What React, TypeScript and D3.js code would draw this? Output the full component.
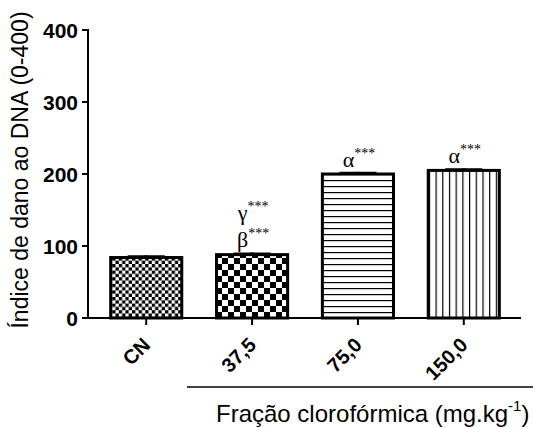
import React from "react";
import * as d3 from "d3";

const categories = ["CN", "37,5", "75,0", "150,0"];
const means = [84, 88, 200, 205];
const errors = [3, 3, 3, 3];
const annotations = [[], ["γ", "β"], ["α"], ["α"]];
const yTicks = [0, 100, 200, 300, 400];
const patterns = ["checkFine", "checkCoarse", "hLines", "vLines"];

const W = 533;
const H = 428;

export default function App() {
  const y = d3.scaleLinear().domain([0, 400]).range([318, 30]);
  const x = d3.scaleBand().domain(categories).range([88, 522]).paddingInner(0.3).paddingOuter(0.2);
  const bw = x.bandwidth();
  const font = "Arial, 'Liberation Sans', sans-serif";
  return (
    <svg width={W} height={H} style={{ position: "absolute", left: 0, top: 0, background: "#fff" }}>
      <defs>
        <pattern id="checkFine" width={6.6} height={6.6} patternUnits="userSpaceOnUse">
          <rect width={6.6} height={6.6} fill="#fff" />
          <rect width={3.3} height={3.3} fill="#000" />
          <rect x={3.3} y={3.3} width={3.3} height={3.3} fill="#000" />
        </pattern>
        <pattern id="checkCoarse" width={12} height={12} patternUnits="userSpaceOnUse">
          <rect width={12} height={12} fill="#fff" />
          <rect width={6} height={6} fill="#000" />
          <rect x={6} y={6} width={6} height={6} fill="#000" />
        </pattern>
        <pattern id="hLines" width={10} height={6} patternUnits="userSpaceOnUse">
          <rect width={10} height={6} fill="#fff" />
          <rect y={0} width={10} height={1.2} fill="#000" />
        </pattern>
        <pattern id="vLines" width={6.7} height={10} patternUnits="userSpaceOnUse">
          <rect width={6.7} height={10} fill="#fff" />
          <rect x={0} width={1.2} height={10} fill="#000" />
        </pattern>
      </defs>
      {/* y axis */}
      <line x1={88} x2={88} y1={y(400) - 1} y2={y(0) + 1} stroke="#000" strokeWidth={2} />
      {yTicks.map((t) => (
        <g key={t}>
          <line x1={82} x2={88} y1={y(t)} y2={y(t)} stroke="#000" strokeWidth={2} />
          <text x={78} y={y(t)} dy="0.36em" textAnchor="end" fontFamily={font} fontWeight="bold" fontSize={21}>
            {t}
          </text>
        </g>
      ))}
      {/* x axis */}
      <line x1={87} x2={521} y1={318} y2={318} stroke="#000" strokeWidth={2} />
      {categories.map((c, i) => {
        const cx = x(c)! + bw / 2;
        const top = y(means[i]);
        return (
          <g key={c}>
            <rect x={x(c)! + 1.5} y={top} width={bw - 3} height={318 - top} fill={`url(#${patterns[i]})`} stroke="#000" strokeWidth={3} />
            <line x1={cx} x2={cx} y1={top} y2={y(means[i] + errors[i])} stroke="#000" strokeWidth={3} />
            <line x1={cx - bw / 4} x2={cx + bw / 4} y1={y(means[i] + errors[i]) + 1.5} y2={y(means[i] + errors[i]) + 1.5} stroke="#000" strokeWidth={3} />
            <line x1={cx} x2={cx} y1={318} y2={325} stroke="#000" strokeWidth={2} />
            <text
              transform={`translate(${cx - 5},${336}) rotate(-45)`}
              textAnchor="end"
              dy="0.72em"
              fontFamily={font}
              fontWeight="bold"
              fontSize={20}
            >
              {c}
            </text>
            {annotations[i].map((a, k) => {
              const n = annotations[i].length;
              const by = y(means[i] + errors[i]) - 5 - (n - 1 - k) * 27;
              return (
                <text key={k} x={cx + 1} y={by} textAnchor="middle" fontFamily="'Liberation Serif', 'Times New Roman', serif" fontSize={22}>
                  {a}
                  <tspan fontSize={14} dy={-9}>***</tspan>
                </text>
              );
            })}
          </g>
        );
      })}
      {/* group line */}
      <line x1={187} x2={533} y1={387} y2={387} stroke="#000" strokeWidth={1.5} />
      <text x={216} y={422} fontFamily={font} fontSize={24}>
        Fração clorofórmica (mg.kg
        <tspan fontSize={15} dy={-11}>-1</tspan>
        <tspan dy={11}>)</tspan>
      </text>
      <text transform={`translate(28,${170}) rotate(-90)`} textAnchor="middle" fontFamily={font} fontSize={23}>
        Índice de dano ao DNA (0-400)
      </text>
    </svg>
  );
}
